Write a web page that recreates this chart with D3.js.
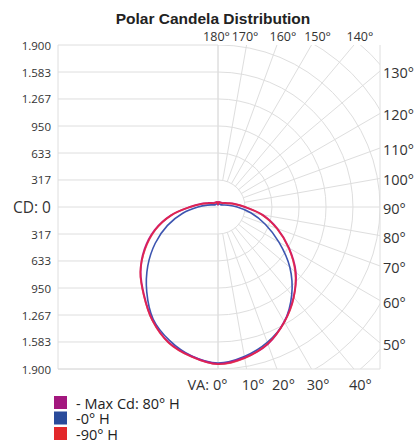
<!DOCTYPE html>
<html>
<head>
<meta charset="utf-8">
<script src="https://cdn.jsdelivr.net/npm/d3@7"></script>
<style>
  body { margin: 0; background: #fff; }
  svg { display: block; font-family: "Open Sans", sans-serif; }
</style>
</head>
<body>
<svg class="polar"></svg>
<script>
// sizes
var width = 415, height = 442;
var cx = 218, cy = 207, R = 162;
var x0 = 58, x1 = cx + R, y0 = cy - R, y1 = cy + R;

// data (candela by vertical angle, 0 = nadir)
var angles = [0, 10, 20, 30, 40, 50, 60, 70, 80, 90, 100, 110, 120, 130, 140, 150, 160, 170, 180];
var maxCdRight = [1840, 1795, 1710, 1555, 1380, 1190, 960, 740, 530, 315, 200, 130, 95, 70, 65, 60, 60, 60, 30];
var maxCdLeft  = [1840, 1780, 1690, 1535, 1350, 1185, 995, 790, 560, 330, 205, 130, 95, 70, 65, 60, 60, 60, 30];
var h0Right    = [1830, 1780, 1690, 1555, 1345, 1100, 825, 590, 390, 225, 120, 70, 50, 40, 40, 40, 40, 40, 25];
var h0Left     = [1830, 1775, 1665, 1520, 1300, 1075, 850, 630, 420, 235, 125, 72, 50, 40, 40, 40, 40, 40, 25];
var h90Right   = [1845, 1800, 1705, 1560, 1385, 1180, 955, 735, 525, 320, 195, 125, 90, 70, 62, 58, 58, 58, 35];
var h90Left    = [1835, 1785, 1695, 1540, 1355, 1190, 985, 780, 555, 325, 200, 128, 92, 68, 62, 58, 58, 58, 35];

// axis labels
var cdTicks = [1900, 1583, 1267, 950, 633, 317, 0, 317, 633, 950, 1267, 1583, 1900];
var cdLabels = ["1.900", "1.583", "1.267", "950", "633", "317", "CD: 0", "317", "633", "950", "1.267", "1.583", "1.900"];
var ringValues = [317, 633, 950, 1267, 1583, 1900, 2217, 2533];
var gridAngles = [0, 10, 20, 30, 40, 50, 60, 70, 80, 90, 100, 110, 120, 130, 140, 150, 160, 170, 180];

var legendNames = ["- Max Cd: 80\u00b0 H", "-0\u00b0 H", "-90\u00b0 H"];
var legendColors = ["#a3177e", "#2a4b9b", "#e3282b"];

var r = d3.scaleLinear().domain([0, 1900]).range([0, R]);
var gridColor = "#dedede";

var svg = d3.select("svg.polar").attr("width", width).attr("height", height);

// title
svg.append("text")
    .attr("x", 213).attr("y", 18)
    .attr("text-anchor", "middle")
    .attr("dominant-baseline", "central")
    .attr("font-family", "'Liberation Sans', Arial, sans-serif")
    .attr("font-weight", "bold")
    .attr("font-size", 15.5)
    .attr("fill", "#222")
    .text("Polar Candela Distribution");

var grid = svg.append("g").attr("fill", "none").attr("stroke", gridColor).attr("stroke-width", 1);

// left half: horizontal lines
cdTicks.forEach(function(v, i) {
    var y = i < 6 ? cy - r(v) : cy + r(v);
    grid.append("line").attr("x1", x0).attr("x2", cx).attr("y1", y).attr("y2", y);
});

// frame
grid.append("line").attr("x1", x0).attr("x2", x0).attr("y1", y0).attr("y2", y1);
grid.append("line").attr("x1", x0).attr("x2", x1).attr("y1", y1).attr("y2", y1);
grid.append("line").attr("x1", x1).attr("x2", x1).attr("y1", y0).attr("y2", y1);
grid.append("line").attr("x1", cx).attr("x2", cx).attr("y1", y0).attr("y2", y1);

// right half: rings clipped to the square
svg.append("clipPath").attr("id", "rightHalf")
  .append("rect").attr("x", cx).attr("y", y0).attr("width", x1 - cx).attr("height", y1 - y0);

grid.append("g").attr("clip-path", "url(#rightHalf)")
  .selectAll("circle").data(ringValues).enter().append("circle")
    .attr("cx", cx).attr("cy", cy)
    .attr("r", function(d) { return r(d); });

// where a ray from the centre meets the square
function hit(a) {
    var t = a * Math.PI / 180, s = Math.sin(t), c = Math.cos(t);
    var best = Infinity, side = "";
    if (s > 1e-9) { var tr = (x1 - cx) / s; if (tr < best) { best = tr; side = "right"; } }
    if (c > 1e-9) { var tb = (y1 - cy) / c; if (tb < best) { best = tb; side = "bottom"; } }
    if (c < -1e-9) { var tt = (cy - y0) / -c; if (tt < best) { best = tt; side = "top"; } }
    return {x: cx + best * s, y: cy + best * c, side: side, s: s, c: c};
}

// radial lines from the first ring out to the frame
gridAngles.forEach(function(a) {
    var h = hit(a);
    grid.append("line")
        .attr("x1", cx + r(ringValues[0]) * h.s).attr("y1", cy + r(ringValues[0]) * h.c)
        .attr("x2", h.x).attr("y2", h.y);
});

// CD labels on the left
svg.append("g").selectAll("text").data(cdTicks).enter().append("text")
    .attr("x", 51)
    .attr("y", function(d, i) { return i < 6 ? cy - r(d) : cy + r(d); })
    .attr("text-anchor", "end")
    .attr("dominant-baseline", "central")
    .attr("font-size", function(d, i) { return i == 6 ? 15.5 : 11.5; })
    .attr("fill", "#333")
    .text(function(d, i) { return cdLabels[i]; });

// angle labels round the frame
var angLabels = svg.append("g").attr("fill", "#333");
gridAngles.forEach(function(a) {
    var h = hit(a);
    var t = angLabels.append("text").attr("dominant-baseline", "central").text(a + "\u00b0");
    if (h.side == "right") {
        t.attr("x", x1 + 3).attr("y", h.y + 1.5).attr("font-size", 14.5);
    } else if (h.side == "bottom") {
        t.attr("x", h.x + 6.5).attr("y", y1 + 15).attr("text-anchor", "middle").attr("font-size", 14.5);
    } else {
        var off = (h.x - cx) < 40 ? -1.5 : 6;
        t.attr("x", h.x + off).attr("y", y0 - 9).attr("text-anchor", "middle").attr("font-size", 12.5);
    }
    if (a == 0) {
        t.attr("text-anchor", "start").attr("x", h.x - 5);
        angLabels.append("text").attr("dominant-baseline", "central")
            .attr("x", h.x - 9).attr("y", y1 + 15)
            .attr("text-anchor", "end").attr("font-size", 14.5)
            .text("VA:");
    }
});

// candela curves: right half then mirrored left half, closed
function loop(right, left) {
    var pts = [];
    for (var i = angles.length - 1; i >= 0; i--) pts.push([Math.PI - angles[i] * Math.PI / 180, r(right[i])]);
    for (var j = 1; j < angles.length - 1; j++) pts.push([Math.PI + angles[j] * Math.PI / 180, r(left[j])]);
    return pts;
}

var radial = d3.lineRadial()
    .angle(function(d) { return d[0]; })
    .radius(function(d) { return d[1]; })
    .curve(d3.curveCatmullRomClosed);

var curves = svg.append("g").attr("transform", "translate(" + cx + "," + cy + ")").attr("fill", "none");

curves.append("path").attr("d", radial(loop(h0Right, h0Left)))
    .attr("stroke", "#3d55b0").attr("stroke-width", 1.6);
curves.append("path").attr("d", radial(loop(maxCdRight, maxCdLeft)))
    .attr("stroke", "#c21a86").attr("stroke-width", 2);
curves.append("path").attr("d", radial(loop(h90Right, h90Left)))
    .attr("stroke", "#ea2a3a").attr("stroke-width", 1.6).attr("stroke-opacity", 0.75);

// legend
var legend = svg.append("g").selectAll("g").data(legendNames).enter().append("g")
    .attr("transform", function(d, i) { return "translate(54," + (396 + i * 15.5) + ")"; });
legend.append("rect").attr("width", 13).attr("height", 13)
    .attr("fill", function(d, i) { return legendColors[i]; });
legend.append("text").attr("x", 22).attr("y", 7).attr("dominant-baseline", "central")
    .attr("font-size", 14.5).attr("fill", "#222")
    .text(function(d) { return d; });
</script>
</body>
</html>
